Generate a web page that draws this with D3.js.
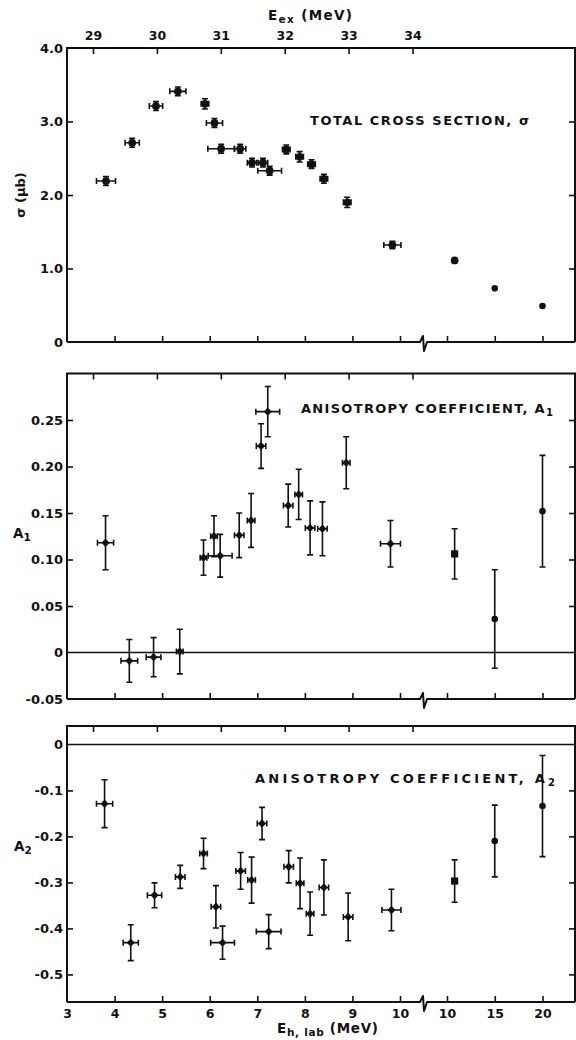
<!DOCTYPE html>
<html>
<head>
<meta charset="utf-8">
<script src="https://cdn.jsdelivr.net/npm/d3@7"></script>
<style>
  body { margin: 0; background: #fff; }
  svg text { font-family: "DejaVu Sans", sans-serif; font-weight: bold; fill: #111; }
</style>
</head>
<body>
<svg id="chart" width="576" height="1040"></svg>
<script>
// ---- data: lab energy (MeV), value, value error, energy error ----
const sigmaE  = [3.82, 4.37, 4.87, 5.33, 5.90, 6.10, 6.24, 6.64, 6.89, 7.12, 7.26, 7.61, 7.89, 8.14, 8.40, 8.89, 9.84, 10.8, 15, 20];
const sigmaV  = [2.19, 2.71, 3.21, 3.41, 3.24, 2.98, 2.63, 2.63, 2.44, 2.44, 2.33, 2.62, 2.52, 2.42, 2.22, 1.90, 1.32, 1.11, 0.73, 0.49];
const sigmaDV = [0.06, 0.06, 0.06, 0.06, 0.07, 0.06, 0.06, 0.06, 0.06, 0.06, 0.06, 0.06, 0.07, 0.06, 0.06, 0.07, 0.05, 0, 0, 0];
const sigmaDE = [0.20, 0.15, 0.14, 0.17, 0.08, 0.17, 0.28, 0.12, 0.10, 0.10, 0.25, 0.08, 0.08, 0.08, 0.08, 0.08, 0.18, 0, 0, 0];

const a1E  = [3.81, 4.31, 4.82, 5.37, 5.87, 6.09, 6.22, 6.62, 6.87, 7.08, 7.22, 7.65, 7.87, 8.11, 8.37, 8.87, 9.80, 10.8, 15, 20];
const a1V  = [0.118, -0.009, -0.005, 0.001, 0.102, 0.125, 0.104, 0.126, 0.142, 0.222, 0.259, 0.158, 0.170, 0.134, 0.133, 0.204, 0.117, 0.106, 0.036, 0.152];
const a1DV = [0.029, 0.023, 0.021, 0.024, 0.019, 0.022, 0.023, 0.024, 0.029, 0.024, 0.027, 0.023, 0.027, 0.029, 0.029, 0.028, 0.025, 0.027, 0.053, 0.060];
const a1DE = [0.17, 0.175, 0.155, 0.07, 0.07, 0.07, 0.25, 0.10, 0.08, 0.10, 0.25, 0.10, 0.08, 0.10, 0.10, 0.08, 0.21, 0, 0, 0];

const a2E  = [3.79, 4.34, 4.84, 5.38, 5.87, 6.13, 6.27, 6.65, 6.88, 7.10, 7.24, 7.66, 7.90, 8.11, 8.40, 8.91, 9.82, 10.8, 15, 20];
const a2V  = [-0.129, -0.431, -0.328, -0.288, -0.237, -0.353, -0.431, -0.275, -0.295, -0.172, -0.407, -0.266, -0.302, -0.368, -0.311, -0.375, -0.360, -0.297, -0.210, -0.134];
const a2DV = [0.052, 0.039, 0.027, 0.025, 0.033, 0.046, 0.036, 0.040, 0.050, 0.035, 0.037, 0.035, 0.055, 0.047, 0.060, 0.052, 0.045, 0.046, 0.078, 0.110];
const a2DE = [0.17, 0.16, 0.15, 0.10, 0.08, 0.10, 0.25, 0.10, 0.08, 0.10, 0.26, 0.10, 0.08, 0.08, 0.10, 0.10, 0.20, 0, 0, 0];

// ---- tick labels ----
const labTicksLow  = [3, 4, 5, 6, 7, 8, 9, 10];
const labTicksHigh = [10, 15, 20];
const exTicks      = [29, 30, 31, 32, 33, 34];
const sigmaTicks   = [0, 1, 2, 3, 4];
const a1Ticks      = [-0.05, 0, 0.05, 0.10, 0.15, 0.20, 0.25];
const a2Ticks      = [0, -0.1, -0.2, -0.3, -0.4, -0.5];

// ---- layout ----
const X0 = 67, X1 = 575, BREAK_X = 424;
const svg = d3.select("#chart");
const INK = "#111";

// lab energy axis: linear up to 10 MeV, compressed segment after the break
const xLow  = d3.scaleLinear().domain([3, 10]).range([X0, 400]);
const xHigh = d3.scaleLinear().domain([10, 20]).range([447, 542.5]);
const xE = e => (e <= 10.4 ? xLow(e) : xHigh(e));
// excitation energy axis along the top
const xEx = d3.scaleLinear().domain([29, 34]).range([93, 412.5]);

const panels = [
  {
    y: d3.scaleLinear().domain([0, 4]).range([342, 48]),
    ticks: sigmaTicks, inner: [1, 2, 3],
    fmt: d => (d === 0 ? "0" : d.toFixed(1)),
    E: sigmaE, V: sigmaV, DV: sigmaDV, DE: sigmaDE,
    marker: "circle", topLabels: true, bottomLabels: false, zero: false
  },
  {
    y: d3.scaleLinear().domain([-0.05, 0.30]).range([699, 373.5]),
    ticks: a1Ticks, inner: [0.05, 0.10, 0.15, 0.20, 0.25],
    fmt: d => (Math.abs(d) < 1e-9 ? "0" : d.toFixed(2)),
    E: a1E, V: a1V, DV: a1DV, DE: a1DE,
    marker: "diamond", topLabels: false, bottomLabels: false, zero: true
  },
  {
    y: d3.scaleLinear().domain([-0.56, 0.04]).range([1002, 726]),
    ticks: a2Ticks, inner: [-0.1, -0.2, -0.3, -0.4, -0.5],
    fmt: d => (Math.abs(d) < 1e-9 ? "0" : d.toFixed(1)),
    E: a2E, V: a2V, DV: a2DV, DE: a2DE,
    marker: "diamond", topLabels: false, bottomLabels: true, zero: true
  }
];

function styleAxis(g, size) {
  g.select(".domain").remove();
  g.selectAll(".tick line").attr("stroke", INK).attr("stroke-width", 1.6);
  g.selectAll(".tick text").attr("font-size", size || 12.5).attr("fill", INK)
    .style("font-family", "'DejaVu Sans', sans-serif").style("font-weight", "bold");
}

panels.forEach(p => {
  const g = svg.append("g");
  const yb = p.y.range()[0], yt = p.y.range()[1];

  // frame: left, top, right, and a broken bottom axis
  g.append("path")
    .attr("d", `M${X0},${yb}V${yt}H${X1}V${yb}`)
    .attr("fill", "none").attr("stroke", INK).attr("stroke-width", 2);
  g.append("path")
    .attr("d", `M${X0},${yb}H${BREAK_X - 4}L${BREAK_X - 1},${yb - 6}L${BREAK_X},${yb + 9}L${BREAK_X + 3},${yb}H${X1}`)
    .attr("fill", "none").attr("stroke", INK).attr("stroke-width", 2).attr("stroke-linejoin", "round");

  // left axis with labels, right axis with inward ticks only
  const left = g.append("g").attr("transform", `translate(${X0},0)`)
    .call(d3.axisLeft(p.y).tickValues(p.ticks).tickSizeInner(-6).tickSizeOuter(0).tickPadding(4).tickFormat(p.fmt));
  styleAxis(left, 13);
  left.selectAll(".tick line").filter(d => !p.inner.includes(d)).remove();

  const right = g.append("g").attr("transform", `translate(${X1},0)`)
    .call(d3.axisRight(p.y).tickValues(p.inner).tickSizeInner(-6).tickSizeOuter(0).tickFormat(""));
  styleAxis(right);

  // bottom axis ticks (both segments)
  const bLow = g.append("g").attr("transform", `translate(0,${yb})`)
    .call(d3.axisBottom(xLow).tickValues(labTicksLow).tickSizeInner(-6).tickSizeOuter(0).tickPadding(7)
      .tickFormat(p.bottomLabels ? d3.format("d") : ""));
  styleAxis(bLow);
  bLow.selectAll(".tick line").filter(d => d === 3).remove();
  const bHigh = g.append("g").attr("transform", `translate(0,${yb})`)
    .call(d3.axisBottom(xHigh).tickValues(labTicksHigh).tickSizeInner(-6).tickSizeOuter(0).tickPadding(7)
      .tickFormat(p.bottomLabels ? d3.format("d") : ""));
  styleAxis(bHigh);

  // top axis ticks in excitation energy
  const top = g.append("g").attr("transform", `translate(0,${yt})`)
    .call(d3.axisTop(xEx).tickValues(exTicks).tickSizeInner(-6).tickSizeOuter(0).tickPadding(8)
      .tickFormat(p.topLabels ? d3.format("d") : ""));
  styleAxis(top);

  // zero reference line
  if (p.zero) {
    g.append("line").attr("x1", X0).attr("x2", X1).attr("y1", p.y(0)).attr("y2", p.y(0))
      .attr("stroke", INK).attr("stroke-width", 1.5);
  }

  const pts = p.E.map((e, i) => ({ e, v: p.V[i], dv: p.DV[i], de: p.DE[i] }));

  // vertical error bars with caps
  g.selectAll(".vbar").data(pts.filter(d => d.dv > 0)).join("path")
    .attr("d", d => {
      const x = xE(d.e), y1 = p.y(d.v + d.dv), y2 = p.y(d.v - d.dv);
      return `M${x},${y1}V${y2}M${x - 3},${y1}H${x + 3}M${x - 3},${y2}H${x + 3}`;
    })
    .attr("fill", "none").attr("stroke", INK).attr("stroke-width", 1.6);

  // horizontal (energy spread) error bars with caps
  g.selectAll(".hbar").data(pts.filter(d => d.de > 0)).join("path")
    .attr("d", d => {
      const x1 = xE(d.e - d.de), x2 = xE(d.e + d.de), y = p.y(d.v);
      return `M${x1},${y}H${x2}M${x1},${y - 3}V${y + 3}M${x2},${y - 3}V${y + 3}`;
    })
    .attr("fill", "none").attr("stroke", INK).attr("stroke-width", 1.6);

  // markers: circles for the cross section, diamonds for the coefficients,
  // squares / dots for the high-energy points past the break
  g.selectAll(".pt").data(pts).join("path")
    .attr("d", d => {
      const x = xE(d.e), y = p.y(d.v);
      const high = d.e > 10.4;
      if (p.marker === "circle") {
        const r = d.e > 12 ? 3.3 : 3.9;
        return `M${x - r},${y}a${r},${r} 0 1,0 ${2 * r},0a${r},${r} 0 1,0 ${-2 * r},0Z`;
      }
      if (high && d.e < 12) {
        return `M${x - 3.6},${y - 3.6}h7.2v7.2h-7.2Z`;
      }
      if (high) {
        const r = 3.3;
        return `M${x - r},${y}a${r},${r} 0 1,0 ${2 * r},0a${r},${r} 0 1,0 ${-2 * r},0Z`;
      }
      return `M${x},${y - 4.2}L${x + 4},${y}L${x},${y + 4.2}L${x - 4},${y}Z`;
    })
    .attr("fill", INK);
});

// ---- text ----
function label(x, y, parts, opts = {}) {
  const t = svg.append("text").attr("x", x).attr("y", y)
    .attr("font-size", opts.size || 12)
    .attr("text-anchor", opts.anchor || "start");
  if (opts.length) t.attr("textLength", opts.length).attr("lengthAdjust", "spacing");
  parts.forEach(([txt, sub]) => {
    const s = t.append("tspan").text(txt);
    if (sub) s.attr("font-size", (opts.size || 12) * 0.78).attr("dy", 3);
    else if (s.node().previousSibling) s.attr("dy", -3);
  });
  return t;
}

// top axis title
label(268, 20, [["E"], ["ex", true], [" (MeV)"]], { size: 13.5, length: 84 });
// bottom axis title
label(277, 1033, [["E"], ["h, lab", true], [" (MeV)"]], { size: 13.5, length: 101 });

// panel titles
label(310, 125, [["TOTAL CROSS SECTION, σ"]], { size: 13, length: 219 });
label(301, 413, [["ANISOTROPY COEFFICIENT, A"], ["1", true]], { size: 13, length: 252 });
label(255, 783, [["ANISOTROPY COEFFICIENT, A"], ["2", true]], { size: 13, length: 300 });

// y-axis titles
svg.append("text").attr("transform", "translate(25,195) rotate(-90)")
  .attr("text-anchor", "middle").attr("font-size", 13).text("σ (μb)");
label(13, 538, [["A"], ["1", true]], { size: 13.5 });
label(14, 851, [["A"], ["2", true]], { size: 13.5 });
</script>
</body>
</html>
